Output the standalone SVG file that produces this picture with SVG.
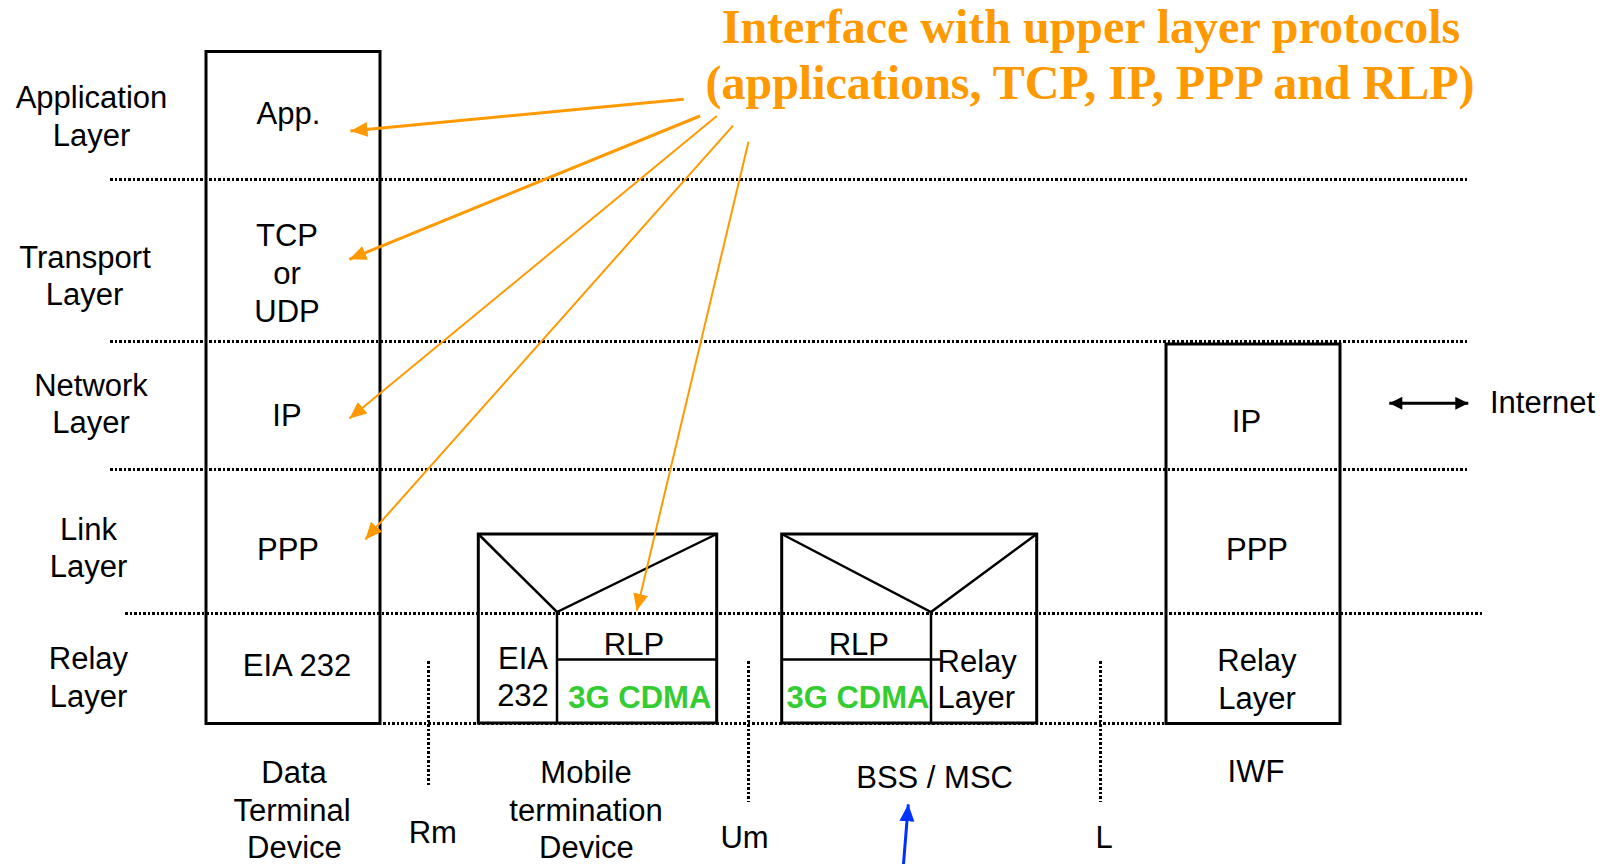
<svg xmlns="http://www.w3.org/2000/svg" width="1614" height="864" viewBox="0 0 1614 864">
  <defs>
    <style>
      .t { font-family: "Liberation Sans", Arial, sans-serif; font-size: 31px; fill: #000; }
      .m { text-anchor: middle; }
      .g { font-family: "Liberation Sans", Arial, sans-serif; font-size: 31px; font-weight: bold; fill: #33CC33; text-anchor: middle; }
      .title { font-family: "Liberation Serif", "Times New Roman", serif; font-size: 48px; font-weight: bold; fill: #FF9900; text-anchor: middle; }
      .box { fill: none; stroke: #000; stroke-width: 3; }
      .inner { fill: none; stroke: #000; stroke-width: 2.5; }
      .dot { stroke: #000; stroke-width: 3; stroke-dasharray: 2.5 2; fill: none; shape-rendering: crispEdges; }
      .orange { stroke: #FF9900; fill: none; }
    </style>
    <marker id="headOrange" markerUnits="userSpaceOnUse" markerWidth="18" markerHeight="16" refX="17" refY="7.5" orient="auto">
      <path d="M0,0 L17,7.5 L0,15 z" fill="#FF9900"/>
    </marker>
    <marker id="headBlue" markerUnits="userSpaceOnUse" markerWidth="18" markerHeight="16" refX="17" refY="7.5" orient="auto">
      <path d="M0,0 L17,7.5 L0,15 z" fill="#0033FF"/>
    </marker>
    <marker id="headBlack" markerUnits="userSpaceOnUse" markerWidth="14" markerHeight="14" refX="13" refY="6.5" orient="auto">
      <path d="M0,0 L13,6.5 L0,13 z" fill="#000"/>
    </marker>
    <marker id="tailBlack" markerUnits="userSpaceOnUse" markerWidth="14" markerHeight="14" refX="0" refY="6.5" orient="auto">
      <path d="M13,0 L0,6.5 L13,13 z" fill="#000"/>
    </marker>
  </defs>

  <rect width="1614" height="864" fill="#fff"/>

  <!-- layer separators -->
  <g id="layer-lines">
    <line class="dot" x1="110" y1="179.5" x2="1467" y2="179.5"/>
    <line class="dot" x1="110" y1="341.5" x2="1467" y2="341.5"/>
    <line class="dot" x1="110" y1="469.5" x2="1467" y2="469.5"/>
    <line class="dot" x1="125" y1="613.5" x2="1482" y2="613.5"/>
    <line class="dot" x1="365" y1="723.5" x2="1242" y2="723.5"/>
  </g>

  <!-- layer names -->
  <g id="layer-labels">
    <text class="t m" x="91.5" y="108">Application</text>
    <text class="t m" x="91.5" y="145.5">Layer</text>
    <text class="t m" x="85" y="268">Transport</text>
    <text class="t m" x="84.5" y="305">Layer</text>
    <text class="t m" x="91" y="396">Network</text>
    <text class="t m" x="91" y="433">Layer</text>
    <text class="t m" x="88.5" y="540">Link</text>
    <text class="t m" x="88.5" y="577">Layer</text>
    <text class="t m" x="88.5" y="669">Relay</text>
    <text class="t m" x="88.5" y="707">Layer</text>
  </g>

  <!-- Data Terminal Device stack -->
  <g id="dte">
    <rect class="box" x="206" y="51.5" width="174" height="672"/>
    <text class="t m" x="288.5" y="124">App.</text>
    <text class="t m" x="287" y="246">TCP</text>
    <text class="t m" x="287" y="284">or</text>
    <text class="t m" x="287" y="321.5">UDP</text>
    <text class="t m" x="287" y="426">IP</text>
    <text class="t m" x="288" y="560">PPP</text>
    <text class="t m" x="297" y="676">EIA 232</text>
  </g>

  <!-- Mobile termination device -->
  <g id="mt">
    <rect class="box" x="478.3" y="534" width="238.4" height="189"/>
    <polyline class="inner" points="478.3,534 557,612 716.7,534"/>
    <line class="inner" x1="557" y1="612" x2="557" y2="723"/>
    <line class="inner" x1="557" y1="659.5" x2="716.7" y2="659.5"/>
    <text class="t m" x="523" y="669">EIA</text>
    <text class="t m" x="523" y="706">232</text>
    <text class="t m" x="634" y="655">RLP</text>
    <text class="g" x="639.8" y="708.3">3G CDMA</text>
  </g>

  <!-- Base station / MSC -->
  <g id="bss">
    <rect class="box" x="781.7" y="534" width="255" height="189"/>
    <polyline class="inner" points="781.7,534 931,612 1036.7,534"/>
    <line class="inner" x1="931" y1="612" x2="931" y2="723"/>
    <line class="inner" x1="781.7" y1="659.5" x2="940" y2="659.5"/>
    <text class="t m" x="858.8" y="655">RLP</text>
    <text class="g" x="858" y="708.3">3G CDMA</text>
    <text class="t" x="937.5" y="671.5">Relay</text>
    <text class="t" x="937.5" y="708.3">Layer</text>
  </g>

  <!-- Interworking function -->
  <g id="iwf">
    <rect class="box" x="1166" y="344" width="174" height="379.5"/>
    <text class="t m" x="1246.5" y="431.5">IP</text>
    <text class="t m" x="1257" y="560">PPP</text>
    <text class="t m" x="1257" y="671">Relay</text>
    <text class="t m" x="1257" y="708.5">Layer</text>
  </g>

  <!-- reference points between devices -->
  <g id="ref-points">
    <line class="dot" x1="428.5" y1="661" x2="428.5" y2="786"/>
    <line class="dot" x1="748.5" y1="661" x2="748.5" y2="802"/>
    <line class="dot" x1="1100.5" y1="661" x2="1100.5" y2="802"/>
  </g>

  <!-- device names -->
  <g id="device-labels">
    <text class="t m" x="294" y="782.5">Data</text>
    <text class="t m" x="292" y="820.5">Terminal</text>
    <text class="t m" x="294.5" y="858">Device</text>
    <text class="t m" x="432.8" y="843">Rm</text>
    <text class="t m" x="586" y="782.5">Mobile</text>
    <text class="t m" x="586" y="820.5">termination</text>
    <text class="t m" x="586.5" y="858">Device</text>
    <text class="t m" x="744.5" y="848">Um</text>
    <text class="t m" x="934.6" y="788.3">BSS / MSC</text>
    <text class="t m" x="1104" y="848">L</text>
    <text class="t m" x="1256" y="781.5">IWF</text>
  </g>

  <!-- title -->
  <g id="title">
    <text class="title" x="1091" y="42.7">Interface with upper layer protocols</text>
    <text class="title" x="1090" y="99.3">(applications, TCP, IP, PPP and RLP)</text>
  </g>

  <!-- connectors -->
  <g id="connectors">
    <line class="orange" stroke-width="3" x1="683.7" y1="99.3" x2="350.5" y2="131" marker-end="url(#headOrange)"/>
    <line class="orange" stroke-width="3" x1="700" y1="116" x2="349.3" y2="259.3" marker-end="url(#headOrange)"/>
    <line class="orange" stroke-width="2" x1="716.8" y1="116" x2="349.5" y2="418.5" marker-end="url(#headOrange)"/>
    <line class="orange" stroke-width="2" x1="733" y1="125.7" x2="365.3" y2="539.5" marker-end="url(#headOrange)"/>
    <line class="orange" stroke-width="2" x1="748.5" y1="141.7" x2="636.7" y2="610.7" marker-end="url(#headOrange)"/>
    <line stroke="#0033FF" stroke-width="3" x1="903" y1="870" x2="908.3" y2="804.3" marker-end="url(#headBlue)"/>
    <line stroke="#000" stroke-width="3" x1="1389.3" y1="403.3" x2="1468.3" y2="403.3" marker-start="url(#tailBlack)" marker-end="url(#headBlack)"/>
  </g>

  <text class="t" x="1490" y="413.3">Internet</text>
</svg>
